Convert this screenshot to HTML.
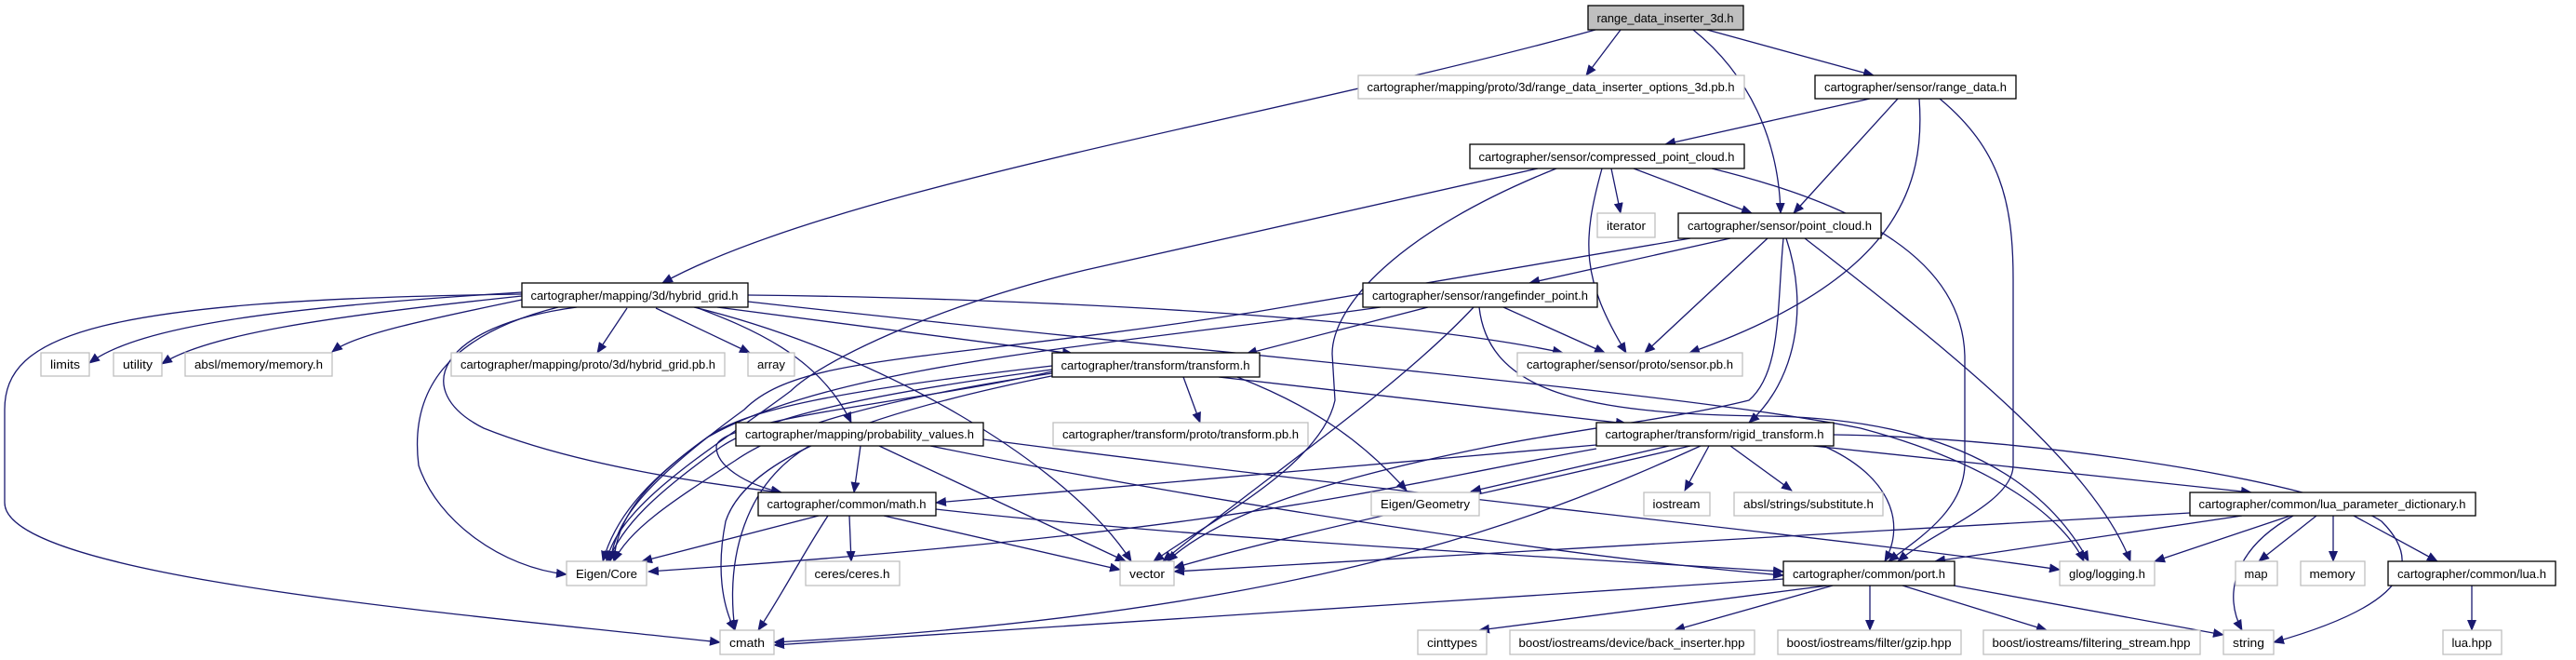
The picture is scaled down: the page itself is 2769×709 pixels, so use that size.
<!DOCTYPE html>
<html><head><meta charset="utf-8"><style>
html,body{margin:0;padding:0;background:#fff;}
svg{display:block}
text{font-family:"Liberation Sans",Arial,sans-serif;font-size:13px;fill:#000}
</style></head><body>
<svg width="2769" height="709" viewBox="0 0 2769 709" xmlns="http://www.w3.org/2000/svg">
<defs>
<marker id="a" markerWidth="12" markerHeight="10" refX="11" refY="5" orient="auto" markerUnits="userSpaceOnUse">
<path d="M0,0 L12,5 L0,10 z" fill="#191970"/>
</marker>
</defs>
<g fill="none" stroke="#191970" stroke-width="1.3" marker-end="url(#a)">
<!-- A -->
<path d="M1715,32 C1400,120 900,200 712,304"/>
<path d="M1742,32 L1705,81"/>
<path d="M1820,32 C1880,80 1912,150 1914,229"/>
<path d="M1835,32 L2014,81"/>
<!-- C -->
<path d="M2010,106 L1790,155"/>
<path d="M2040,106 L1928,229"/>
<path d="M2063,106 C2070,200 2040,300 1816,379"/>
<path d="M2085,106 C2150,160 2164,217 2164,300 L2164,500 C2164,540 2080,570 2040,603"/>
<!-- D -->
<path d="M1653,181 L1167,290 C1000,330 880,390 850,420 C770,480 665,540 652,603"/>
<path d="M1673,181 C1500,250 1432,330 1432,380 L1435,430 C1420,500 1300,560 1240,603"/>
<path d="M1722,181 C1700,260 1700,300 1748,379"/>
<path d="M1732,181 L1742,229"/>
<path d="M1756,181 L1883,229"/>
<path d="M1840,181 C2000,220 2110,280 2112,383 L2112,500 C2110,550 2060,580 2030,603"/>
<!-- F -->
<path d="M1860,256 L1644,304"/>
<path d="M1817,256 L1350,335 C1000,390 860,380 800,440 C690,520 662,560 656,603"/>
<path d="M1900,256 L1768,379"/>
<path d="M1920,256 C1945,330 1930,410 1880,454"/>
<path d="M1917,256 C1910,330 1915,400 1880,430 C1800,450 1700,460 1600,480 C1400,520 1300,560 1255,603"/>
<path d="M1940,256 C2100,380 2250,500 2290,603"/>
<!-- G hybrid_grid -->
<path d="M561,314 C300,330 150,350 96,390"/>
<path d="M561,318 C350,340 220,360 174,391"/>
<path d="M561,322 C450,345 380,360 357,378"/>
<path d="M674,331 L642,379"/>
<path d="M705,331 L806,379"/>
<path d="M561,316 C100,322 5,360 5,440 L5,540 C5,620 500,660 774,690"/>
<path d="M600,330 C480,360 440,420 450,500 C470,560 540,610 609,617"/>
<path d="M620,330 C470,350 440,420 520,460 C620,500 760,520 840,529"/>
<path d="M748,330 C800,350 880,380 915,454"/>
<path d="M746,330 C950,380 1150,500 1216,603"/>
<path d="M771,330 L1153,380"/>
<path d="M804,317 C1100,320 1500,340 1680,379"/>
<path d="M804,324 C1300,380 1800,420 2000,460 C2150,500 2220,560 2240,603"/>
<!-- H rangefinder -->
<path d="M1535,330 L1340,380"/>
<path d="M1484,330 C1200,370 900,390 760,470 C690,520 662,560 660,603"/>
<path d="M1584,330 C1500,420 1350,520 1250,603"/>
<path d="M1616,330 L1725,379"/>
<path d="M1590,330 C1600,420 1700,445 1900,447 C2100,450 2200,520 2245,603"/>
<!-- N transform -->
<path d="M1272,405 L1290,454"/>
<path d="M1330,405 C1420,440 1470,480 1512,527"/>
<path d="M1310,405 L1748,455"/>
<path d="M1131,393 C900,420 800,440 760,470 C690,520 660,560 648,603"/>
<path d="M1131,397 C920,425 820,450 775,480 C705,530 668,565 654,603"/>
<path d="M1131,401 C940,430 840,460 790,495 C720,540 675,570 660,603"/>
<path d="M1131,399 C1000,430 770,450 770,480 C770,500 800,520 840,529"/>
<path d="M1135,403 C900,450 800,500 780,560 C770,610 776,650 790,677"/>
<!-- P probability -->
<path d="M925,479 L918,529"/>
<path d="M945,479 L1210,603"/>
<path d="M870,479 C800,520 780,600 790,677"/>
<path d="M1000,479 C1300,540 1700,600 1917,618"/>
<path d="M1057,472 C1500,530 2000,580 2214,612"/>
<!-- R rigid -->
<path d="M1716,478 L1006,540"/>
<path d="M1794,479 L1581,528"/>
<path d="M1837,479 L1811,527"/>
<path d="M1860,479 L1926,527"/>
<path d="M1949,479 L2420,529"/>
<path d="M1960,479 C2030,510 2050,560 2026,603"/>
<path d="M1971,467 C2200,470 2500,520 2560,560 C2620,620 2550,660 2444,690"/>
<path d="M1817,479 C1600,530 1400,570 1262,610"/>
<path d="M1716,482 C1500,520 1350,570 697,614"/>
<path d="M1828,479 C1650,560 1400,660 832,690"/>
<!-- S math -->
<path d="M880,554 L690,603"/>
<path d="M890,554 C860,600 840,640 815,677"/>
<path d="M913,554 L915,603"/>
<path d="M950,554 L1204,612"/>
<path d="M1006,547 C1300,580 1700,600 1917,614"/>
<!-- W lua_param -->
<path d="M2354,551 C1900,580 1500,600 1262,614"/>
<path d="M2410,554 L2080,603"/>
<path d="M2462,554 L2316,603"/>
<path d="M2465,554 C2400,590 2390,640 2410,677"/>
<path d="M2490,554 L2428,603"/>
<path d="M2508,554 L2508,603"/>
<path d="M2530,554 L2620,603"/>
<!-- AE -->
<path d="M2657,629 L2657,677"/>
<!-- AA port -->
<path d="M1917,622 C1500,650 1000,680 832,693"/>
<path d="M1965,629 L1590,677"/>
<path d="M1970,629 L1800,677"/>
<path d="M2010,629 L2010,677"/>
<path d="M2045,629 L2200,677"/>
<path d="M2100,629 L2390,682"/>
</g>
<g stroke-width="1.3">
<rect x="1707" y="6" width="167" height="26" fill="#bfbfbf" stroke="#000"/>
<rect x="1460" y="81" width="415" height="25" fill="#fff" stroke="#bfbfbf"/>
<rect x="1951" y="81" width="216" height="25" fill="#fff" stroke="#000"/>
<rect x="1580" y="155" width="295" height="26" fill="#fff" stroke="#000"/>
<rect x="1717" y="229" width="62" height="26" fill="#fff" stroke="#bfbfbf"/>
<rect x="1804" y="229" width="218" height="27" fill="#fff" stroke="#000"/>
<rect x="561" y="304" width="243" height="26" fill="#fff" stroke="#000"/>
<rect x="1465" y="304" width="252" height="26" fill="#fff" stroke="#000"/>
<rect x="44" y="379" width="52" height="25" fill="#fff" stroke="#bfbfbf"/>
<rect x="122" y="379" width="52" height="25" fill="#fff" stroke="#bfbfbf"/>
<rect x="199" y="379" width="158" height="25" fill="#fff" stroke="#bfbfbf"/>
<rect x="485" y="379" width="294" height="25" fill="#fff" stroke="#bfbfbf"/>
<rect x="804" y="379" width="50" height="25" fill="#fff" stroke="#bfbfbf"/>
<rect x="1131" y="379" width="223" height="26" fill="#fff" stroke="#000"/>
<rect x="1631" y="379" width="242" height="25" fill="#fff" stroke="#bfbfbf"/>
<rect x="791" y="454" width="266" height="25" fill="#fff" stroke="#000"/>
<rect x="1132" y="454" width="274" height="25" fill="#fff" stroke="#bfbfbf"/>
<rect x="1716" y="454" width="255" height="25" fill="#fff" stroke="#000"/>
<rect x="815" y="529" width="191" height="25" fill="#fff" stroke="#000"/>
<rect x="1474" y="529" width="116" height="25" fill="#fff" stroke="#bfbfbf"/>
<rect x="1767" y="529" width="71" height="25" fill="#fff" stroke="#bfbfbf"/>
<rect x="1864" y="529" width="160" height="25" fill="#fff" stroke="#bfbfbf"/>
<rect x="2354" y="529" width="307" height="25" fill="#fff" stroke="#000"/>
<rect x="609" y="603" width="86" height="26" fill="#fff" stroke="#bfbfbf"/>
<rect x="866" y="603" width="101" height="26" fill="#fff" stroke="#bfbfbf"/>
<rect x="1204" y="603" width="58" height="26" fill="#fff" stroke="#bfbfbf"/>
<rect x="1917" y="603" width="184" height="26" fill="#fff" stroke="#000"/>
<rect x="2214" y="603" width="102" height="26" fill="#fff" stroke="#bfbfbf"/>
<rect x="2403" y="603" width="45" height="26" fill="#fff" stroke="#bfbfbf"/>
<rect x="2473" y="603" width="69" height="26" fill="#fff" stroke="#bfbfbf"/>
<rect x="2567" y="603" width="180" height="26" fill="#fff" stroke="#000"/>
<rect x="774" y="677" width="58" height="26" fill="#fff" stroke="#bfbfbf"/>
<rect x="1524" y="677" width="74" height="26" fill="#fff" stroke="#bfbfbf"/>
<rect x="1623" y="677" width="263" height="26" fill="#fff" stroke="#bfbfbf"/>
<rect x="1911" y="677" width="197" height="26" fill="#fff" stroke="#bfbfbf"/>
<rect x="2132" y="677" width="233" height="26" fill="#fff" stroke="#bfbfbf"/>
<rect x="2390" y="677" width="54" height="26" fill="#fff" stroke="#bfbfbf"/>
<rect x="2626" y="677" width="63" height="26" fill="#fff" stroke="#bfbfbf"/>
</g>
<g text-anchor="middle">
<text x="1790" y="24" textLength="147" lengthAdjust="spacingAndGlyphs">range_data_inserter_3d.h</text>
<text x="1667" y="98" textLength="395" lengthAdjust="spacingAndGlyphs">cartographer/mapping/proto/3d/range_data_inserter_options_3d.pb.h</text>
<text x="2059" y="98" textLength="196" lengthAdjust="spacingAndGlyphs">cartographer/sensor/range_data.h</text>
<text x="1727" y="173" textLength="275" lengthAdjust="spacingAndGlyphs">cartographer/sensor/compressed_point_cloud.h</text>
<text x="1748" y="247" textLength="42" lengthAdjust="spacingAndGlyphs">iterator</text>
<text x="1913" y="247" textLength="198" lengthAdjust="spacingAndGlyphs">cartographer/sensor/point_cloud.h</text>
<text x="682" y="322" textLength="223" lengthAdjust="spacingAndGlyphs">cartographer/mapping/3d/hybrid_grid.h</text>
<text x="1591" y="322" textLength="232" lengthAdjust="spacingAndGlyphs">cartographer/sensor/rangefinder_point.h</text>
<text x="70" y="396" textLength="32" lengthAdjust="spacingAndGlyphs">limits</text>
<text x="148" y="396" textLength="32" lengthAdjust="spacingAndGlyphs">utility</text>
<text x="278" y="396" textLength="138" lengthAdjust="spacingAndGlyphs">absl/memory/memory.h</text>
<text x="632" y="396" textLength="274" lengthAdjust="spacingAndGlyphs">cartographer/mapping/proto/3d/hybrid_grid.pb.h</text>
<text x="829" y="396" textLength="30" lengthAdjust="spacingAndGlyphs">array</text>
<text x="1242" y="397" textLength="203" lengthAdjust="spacingAndGlyphs">cartographer/transform/transform.h</text>
<text x="1752" y="396" textLength="222" lengthAdjust="spacingAndGlyphs">cartographer/sensor/proto/sensor.pb.h</text>
<text x="924" y="471" textLength="246" lengthAdjust="spacingAndGlyphs">cartographer/mapping/probability_values.h</text>
<text x="1269" y="471" textLength="254" lengthAdjust="spacingAndGlyphs">cartographer/transform/proto/transform.pb.h</text>
<text x="1843" y="471" textLength="235" lengthAdjust="spacingAndGlyphs">cartographer/transform/rigid_transform.h</text>
<text x="910" y="546" textLength="171" lengthAdjust="spacingAndGlyphs">cartographer/common/math.h</text>
<text x="1532" y="546" textLength="96" lengthAdjust="spacingAndGlyphs">Eigen/Geometry</text>
<text x="1802" y="546" textLength="51" lengthAdjust="spacingAndGlyphs">iostream</text>
<text x="1944" y="546" textLength="140" lengthAdjust="spacingAndGlyphs">absl/strings/substitute.h</text>
<text x="2507" y="546" textLength="287" lengthAdjust="spacingAndGlyphs">cartographer/common/lua_parameter_dictionary.h</text>
<text x="652" y="621" textLength="66" lengthAdjust="spacingAndGlyphs">Eigen/Core</text>
<text x="916" y="621" textLength="81" lengthAdjust="spacingAndGlyphs">ceres/ceres.h</text>
<text x="1233" y="621" textLength="38" lengthAdjust="spacingAndGlyphs">vector</text>
<text x="2009" y="621" textLength="164" lengthAdjust="spacingAndGlyphs">cartographer/common/port.h</text>
<text x="2265" y="621" textLength="82" lengthAdjust="spacingAndGlyphs">glog/logging.h</text>
<text x="2425" y="621" textLength="25" lengthAdjust="spacingAndGlyphs">map</text>
<text x="2507" y="621" textLength="49" lengthAdjust="spacingAndGlyphs">memory</text>
<text x="2657" y="621" textLength="160" lengthAdjust="spacingAndGlyphs">cartographer/common/lua.h</text>
<text x="803" y="695" textLength="38" lengthAdjust="spacingAndGlyphs">cmath</text>
<text x="1561" y="695" textLength="54" lengthAdjust="spacingAndGlyphs">cinttypes</text>
<text x="1754" y="695" textLength="243" lengthAdjust="spacingAndGlyphs">boost/iostreams/device/back_inserter.hpp</text>
<text x="2009" y="695" textLength="177" lengthAdjust="spacingAndGlyphs">boost/iostreams/filter/gzip.hpp</text>
<text x="2248" y="695" textLength="213" lengthAdjust="spacingAndGlyphs">boost/iostreams/filtering_stream.hpp</text>
<text x="2417" y="695" textLength="34" lengthAdjust="spacingAndGlyphs">string</text>
<text x="2657" y="695" textLength="43" lengthAdjust="spacingAndGlyphs">lua.hpp</text>
</g>
</svg>
</body></html>
